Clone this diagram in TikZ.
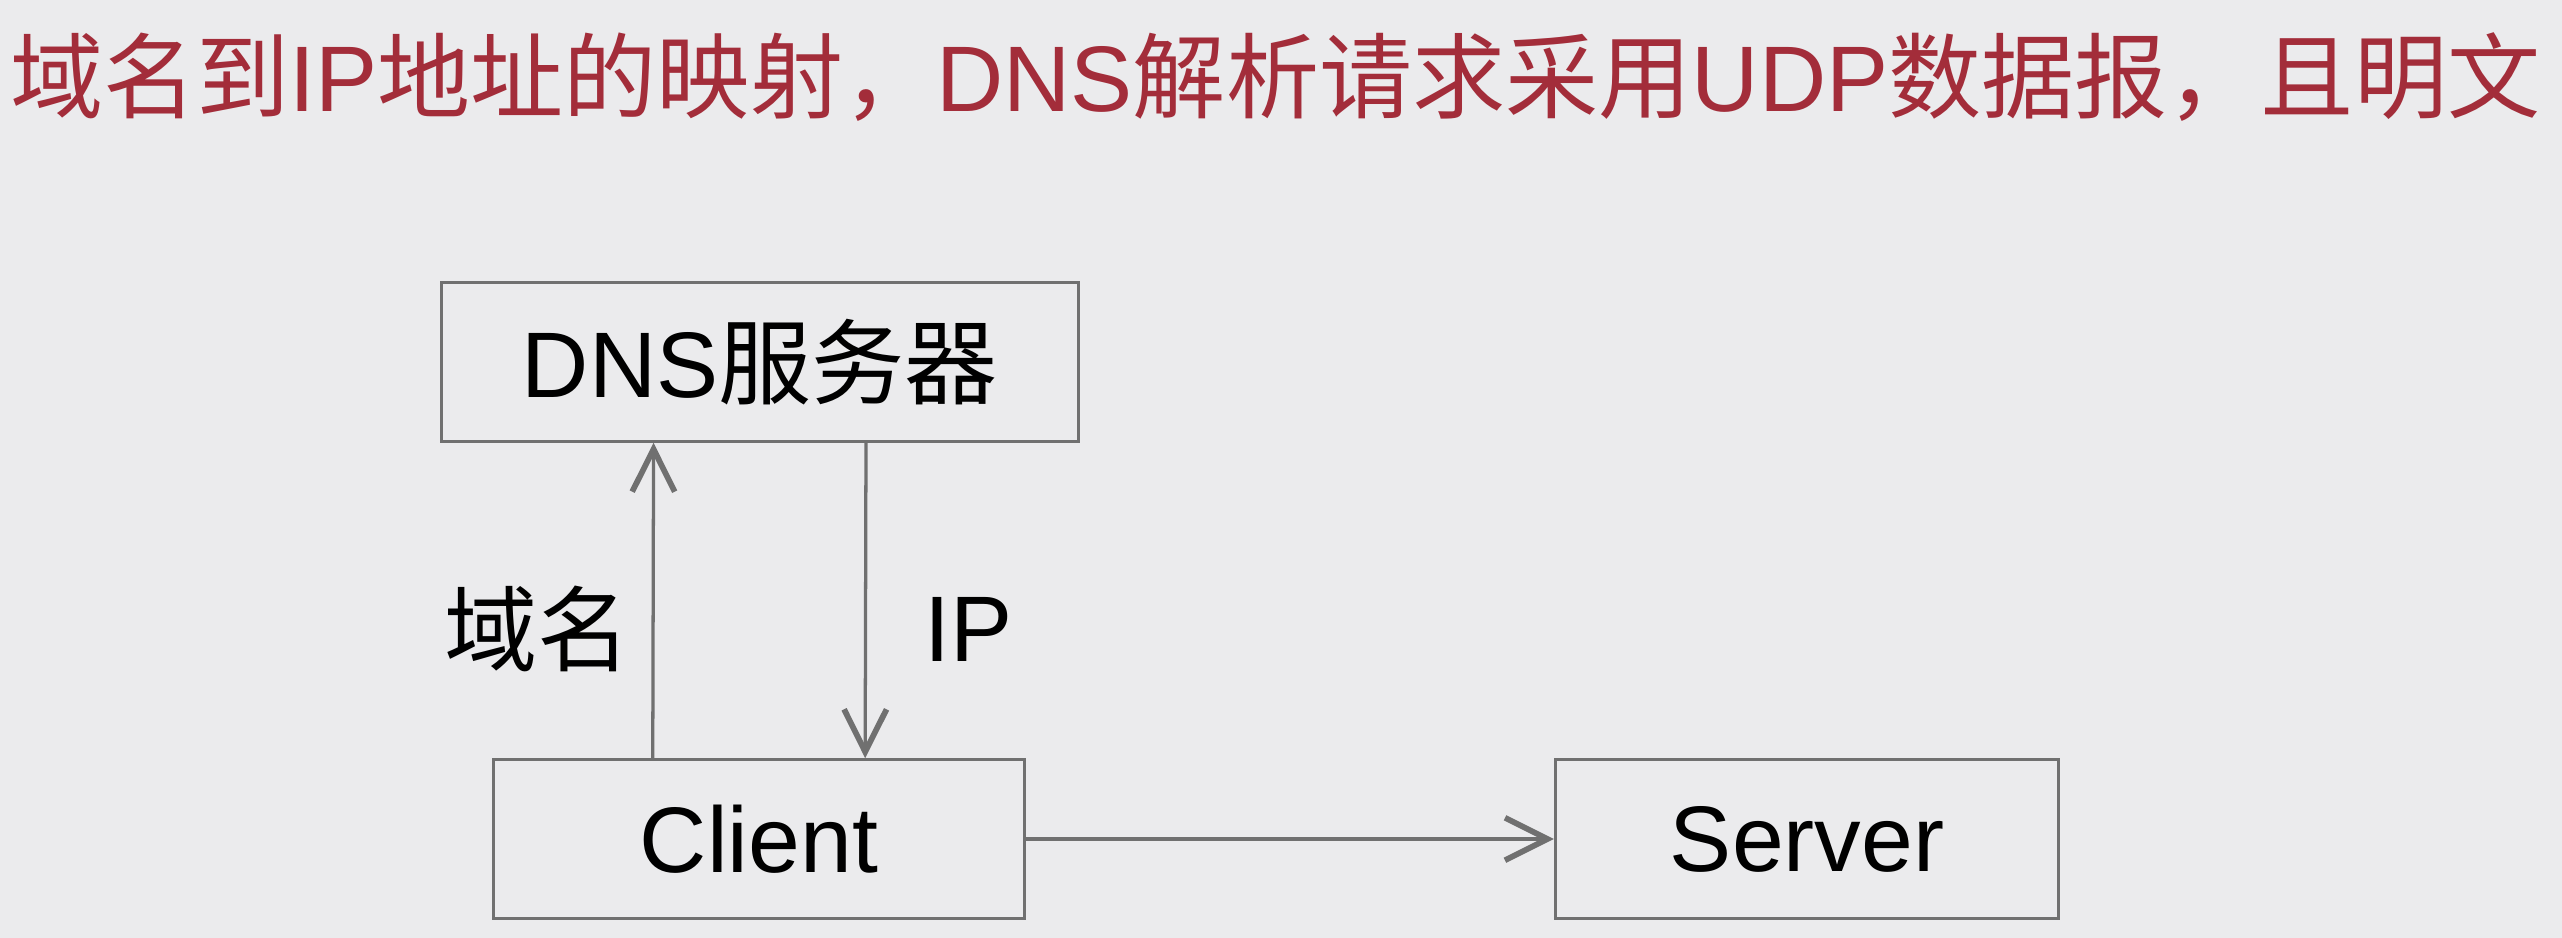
\documentclass[tikz,border=0pt]{standalone}
\usepackage{fontspec}
\setmainfont{Liberation Sans}
\newfontfamily\cjk{Noto Sans CJK SC}
\usepackage{xcolor}
\usetikzlibrary{arrows.meta, positioning}
\definecolor{slidebg}{RGB}{235,235,237}
\definecolor{titlered}{RGB}{163,45,58}
\definecolor{linegray}{RGB}{112,112,112}
\newcommand{\zh}[1]{{\cjk #1}}

\tikzset{
  hostbox/.style={draw=linegray, line width=2pt, minimum height=97pt,
                  inner sep=0pt, font=\fontsize{57}{60}\selectfont},
  flow/.style={linegray, line width=2pt,
               -{Straight Barb[length=26pt, width=26pt, line width=3.5pt]}},
  tag/.style={font=\fontsize{57}{60}\selectfont, text=black}
}

\begin{document}
\begin{tikzpicture}[x=1pt, y=-1pt]
  % slide background
  \fill[slidebg] (0,0) rectangle (1568,574);
  \useasboundingbox (0,0) rectangle (1568,574);

  % title line
  \node[anchor=base west, inner sep=0pt, text=titlered,
        font=\fontsize{57}{62}\selectfont] (title) at (6,68)
    {\zh{域名到}IP\zh{地址的映射，}DNS\zh{解析请求采用}UDP\zh{数据报，且明文}};

  % hosts
  \node[hostbox, minimum width=390pt] (dns) at (465,221.5) {DNS\zh{服务器}};
  \node[hostbox, minimum width=325pt] (client) at (464.5,513.5) {Client};
  \node[hostbox, minimum width=308pt] (server) at (1106,513.5) {Server};

  % query / answer
  \draw[flow] ([xshift=-65pt]client.north) -- ([xshift=-65pt]dns.south);
  \draw[flow] ([xshift=65pt]dns.south) -- ([xshift=65pt]client.north);
  \node[tag] (domain) at (329,385) {\zh{域名}};
  \node[tag] (ip) at (593,385) {IP};

  % client to server
  \draw[flow] (client.east) -- (server.west);
\end{tikzpicture}
\end{document}
